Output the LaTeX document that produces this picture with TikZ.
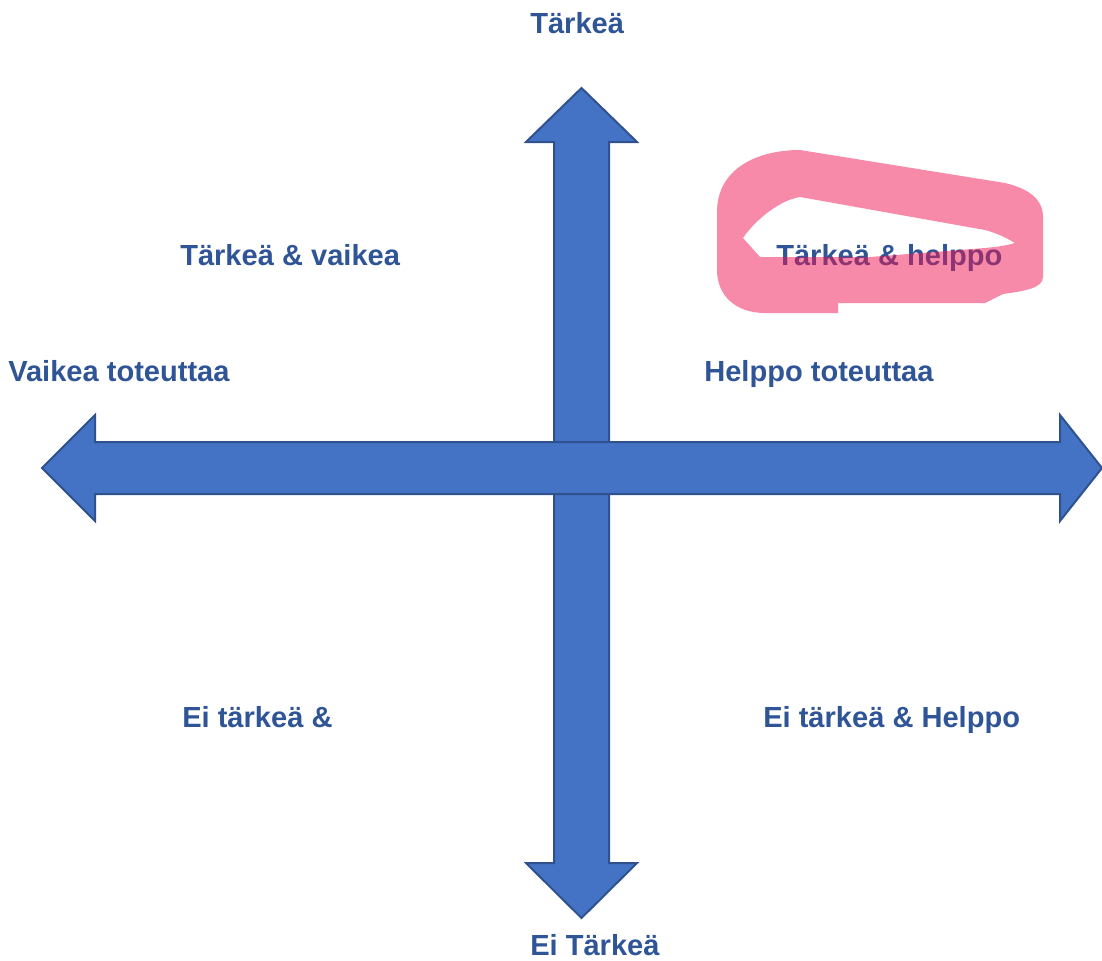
\documentclass[tikz,border=0pt]{standalone}
\usepackage{fontspec}
\setmainfont{Liberation Sans}
\begin{document}
\definecolor{axisfill}{HTML}{4472C4}
\definecolor{axisline}{HTML}{2F528F}
\definecolor{labelblue}{HTML}{2F5597}
\definecolor{marker}{RGB}{239,21,81}
\begin{tikzpicture}[x=0.75pt,y=-0.75pt,
  axisarrow/.style={fill=axisfill,draw=axisline,line width=1.5pt,line join=miter},
  lbl/.style={anchor=base west,inner sep=0pt,text=labelblue,
    font=\fontsize{21.8}{26}\selectfont\bfseries},
  highlight/.style={fill=marker,fill opacity=0.5,even odd rule}]
\useasboundingbox (0,0) rectangle (1102,960);

% vertical axis (importance)
\draw[axisarrow] (581.5,88) -- (637,142) -- (609,142) -- (609,863) -- (637,863)
  -- (581.5,918) -- (526,863) -- (554,863) -- (554,142) -- (526,142) -- cycle;
% horizontal axis (ease of implementation)
\draw[axisarrow] (42,468) -- (95,415) -- (95,442) -- (1060,442) -- (1060,415)
  -- (1102,468) -- (1060,521) -- (1060,494) -- (95,494) -- (95,521) -- cycle;

% labels
\node[lbl] (top)    at (530,33)  {Tärkeä};
\node[lbl] (tl)     at (180,265) {Tärkeä \& vaikea};
\node[lbl] (tr)     at (776,265) {Tärkeä \& helppo};
\node[lbl] (left)   at (8,381)   {Vaikea toteuttaa};
\node[lbl] (right)  at (704,381) {Helppo toteuttaa};
\node[lbl] (bl)     at (182,727) {Ei tärkeä \&};
\node[lbl] (br)     at (763,727) {Ei tärkeä \& Helppo};
\node[lbl] (bottom) at (530,955) {Ei Tärkeä};

% hand-drawn marker loop around the top-right quadrant label
\fill[highlight]
  (717,212) .. controls (717,168) and (758,150) .. (800,150)
  -- (1005,183) .. controls (1030,189) and (1043,200) .. (1043,217)
  -- (1043,277) .. controls (1043,288) and (1025,291) .. (1003,294)
  -- (985,303) -- (838,303) -- (838,313) -- (765,313)
  .. controls (735,313) and (717,295) .. (717,270) -- cycle
  (743,238) .. controls (755,220) and (780,200) .. (800,197)
  -- (985,230) .. controls (1000,234) and (1010,240) .. (1015,243)
  .. controls (1005,246) and (995,247) .. (985,248)
  -- (870,257) -- (760,257) -- cycle;
\end{tikzpicture}
\end{document}
